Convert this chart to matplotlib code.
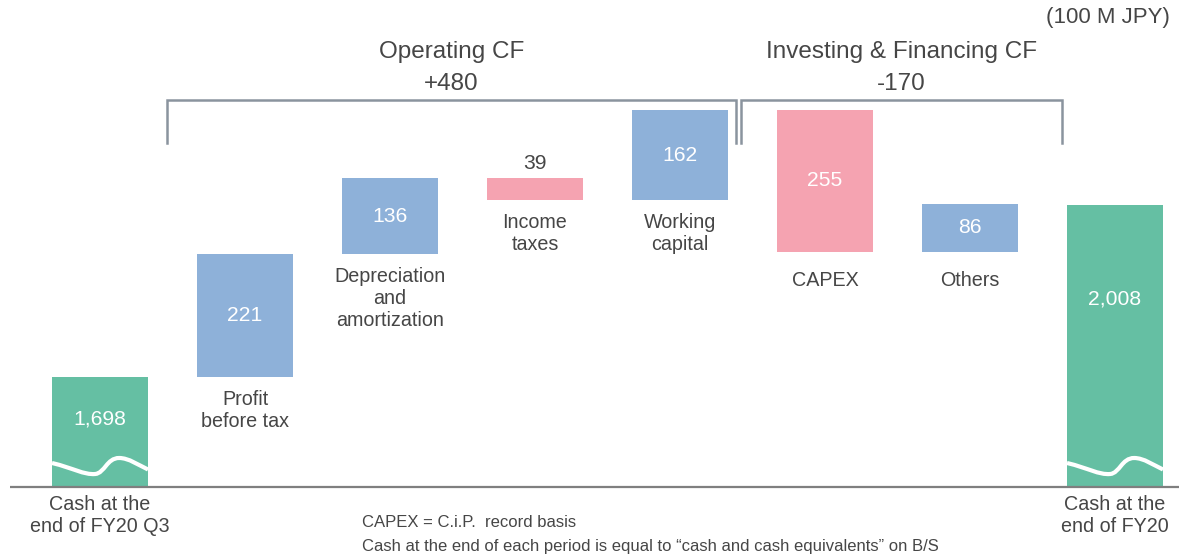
import matplotlib
matplotlib.use("Agg")
import matplotlib.pyplot as plt
from matplotlib.path import Path
from matplotlib.patches import PathPatch

plt.rcParams['font.family'] = ['Liberation Sans', 'DejaVu Sans']

# ---------------- data ----------------
categories = ["Cash at the\nend of FY20 Q3", "Profit\nbefore tax",
              "Depreciation\nand\namortization", "Income\ntaxes",
              "Working\ncapital", "CAPEX", "Others", "Cash at the\nend of FY20"]
values = [1698, 221, 136, -39, 162, -255, 86, 2008]
value_labels = ["1,698", "221", "136", "39", "162", "255", "86", "2,008"]
kinds = ["total", "delta", "delta", "delta", "delta", "delta", "delta", "total"]
group_titles = ["Operating CF", "Investing & Financing CF"]
group_totals = ["+480", "-170"]
unit_label = "(100 M JPY)"
footnotes = ["CAPEX = C.i.P.  record basis",
             "Cash at the end of each period is equal to \u201ccash and cash equivalents\u201d on B/S"]

# ---------------- style ----------------
GREEN = "#65bfa3"
BLUE = "#8eb1d9"
PINK = "#f5a3b1"
TEXT = "#464646"
LINE = "#8a949e"
AXIS = "#7f7f7f"

W, H = 1179, 560
fig = plt.figure(figsize=(W / 100, H / 100), dpi=100)
ax = fig.add_axes([0, 0, 1, 1])
ax.axis('off')

PX_X = 145.0      # px per category
X0 = 100.0        # px centre of first bar
S = 0.556         # px per value unit
BASE = 1500       # value at the (broken) baseline
BASE_PX = 487

def yv(p):  # pixel row -> data value (layout helper)
    return BASE + (BASE_PX - p) / S

def xv(p):  # pixel column -> data x (layout helper)
    return (p - X0) / PX_X

ax.set_xlim(xv(0), xv(W))
ax.set_ylim(yv(H), yv(0))

BW = 96 / PX_X
FS_VAL = 15.2
FS_CAT = 14.2

# baseline
ax.plot([xv(10), xv(W)], [BASE, BASE], color=AXIS, lw=1.6, solid_capstyle='butt', zorder=3)

level = 0
for i, (v, k) in enumerate(zip(values, kinds)):
    if k == "total":
        bottom, top = BASE, v
        color = GREEN
        level = v
    else:
        bottom, top = min(level, level + v), max(level, level + v)
        color = BLUE if v > 0 else PINK
        level += v
    ax.bar(i, top - bottom, bottom=bottom, width=BW, color=color, zorder=2, linewidth=0)

    # value label
    if k == "total":
        off = -42 if i == 0 else -94
        ax.annotate(value_labels[i], (i, top), xytext=(0, off), textcoords='offset pixels',
                    ha='center', va='center', color='white', fontsize=FS_VAL, zorder=5)
        # axis-break wave (pixel offsets above the baseline)
        l = i - BW / 2
        shape = [(0, 24), (0.22, 19), (0.33, 12), (0.45, 13),
                 (0.55, 14), (0.57, 29), (0.70, 29),
                 (0.80, 29), (0.90, 22), (1.0, 17.5)]
        verts = [(l + fx * BW, BASE + dy / S) for fx, dy in shape]
        codes = [Path.MOVETO] + [Path.CURVE4] * 9
        ax.add_patch(PathPatch(Path(verts, codes), fill=False, edgecolor='white', lw=3, zorder=4,
                               capstyle='butt'))
        ax.annotate(categories[i], (i, BASE), xytext=(0, -8), textcoords='offset pixels',
                    ha='center', va='top', color=TEXT, fontsize=FS_CAT, linespacing=1.2)
    else:
        if top - bottom < 60:
            ax.annotate(value_labels[i], (i, top), xytext=(0, 15), textcoords='offset pixels',
                        ha='center', va='center', color=TEXT, fontsize=FS_VAL)
        else:
            ax.text(i, (top + bottom) / 2, value_labels[i], ha='center', va='center',
                    color='white', fontsize=FS_VAL, zorder=5)
        gap = -19 if (v < -100 or i == 6) else -13
        ax.annotate(categories[i], (i, bottom), xytext=(0, gap), textcoords='offset pixels',
                    ha='center', va='top', color=TEXT, fontsize=FS_CAT, linespacing=1.2)

# group brackets
brackets = [(xv(167), xv(736)), (xv(741), xv(1062))]
btop, bbot = yv(100), yv(143)
for (l, r), title, tot in zip(brackets, group_titles, group_totals):
    ax.plot([l, l, r, r], [bbot, btop, btop, bbot], color=LINE, lw=1.8, solid_joinstyle='miter')
    cx = (l + r) / 2
    ax.text(cx, yv(52), title, ha='center', va='center', color=TEXT, fontsize=17.5)
    ax.text(cx, yv(84), tot, ha='center', va='center', color=TEXT, fontsize=17.5)

ax.text(xv(1170), yv(17), unit_label, ha='right', va='center', color=TEXT, fontsize=16)

for j, note in enumerate(footnotes):
    ax.text(xv(362), yv(523 + 24 * j), note, ha='left', va='center', color=TEXT, fontsize=12)

fig.savefig("out.png", dpi=100)
